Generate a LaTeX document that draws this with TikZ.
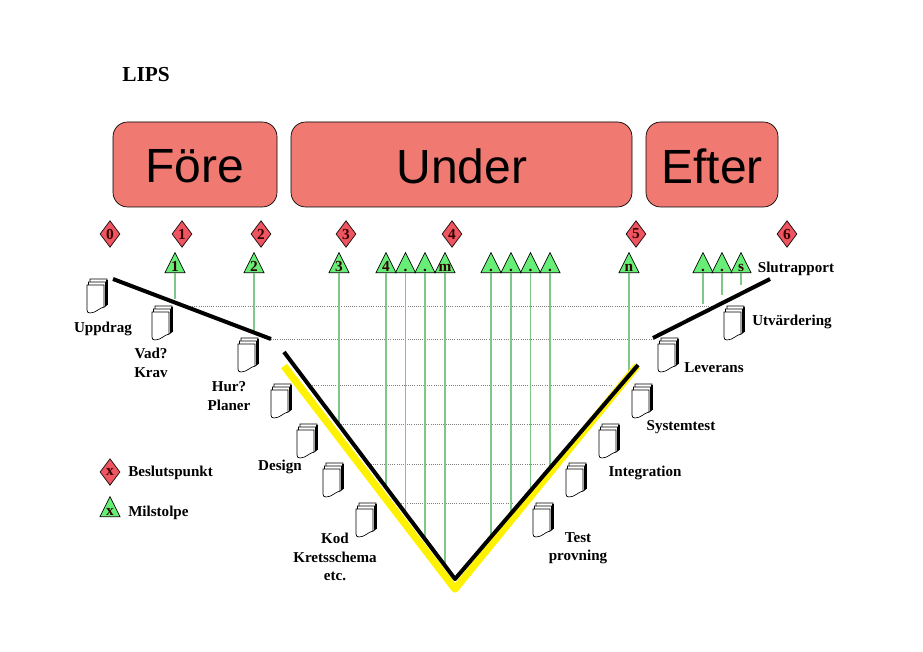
\documentclass[tikz,border=0pt]{standalone}
\usepackage{fontspec}
\setmainfont{Liberation Serif}
\setsansfont{Liberation Sans}
\usetikzlibrary{shapes.geometric}
\definecolor{phasered}{HTML}{F07A72}
\definecolor{gatered}{HTML}{EE5560}
\definecolor{stonegreen}{HTML}{66EE77}
\definecolor{stoneline}{HTML}{80C888}
\tikzset{
    phasebox/.style={draw=black,fill=phasered,rounded corners=11pt,line width=0.5pt},
    phasetext/.style={font=\sffamily\fontsize{36}{36}\selectfont},
    gate/.style={diamond,draw=black,fill=gatered,minimum width=15pt,minimum height=20pt,inner sep=0pt,line width=0.5pt},
    stone/.style={isosceles triangle,isosceles triangle apex angle=53,shape border rotate=90,draw=black,fill=stonegreen,minimum height=15pt,minimum width=15pt,inner sep=0pt,line width=0.5pt,anchor=south},
    marktext/.style={font=\bfseries\fontsize{11.5}{11.5}\selectfont,text=black!80!red,inner sep=0pt},
    lbl/.style={font=\bfseries\fontsize{11.3}{13.9}\selectfont,align=center,inner sep=0pt},
    levelline/.style={gray,line width=0.6pt,densely dotted},
    stoneconn/.style={stoneline,line width=0.9pt},
    vline/.style={black,line width=3pt,line join=round},
    yline/.style={yellow,line width=5.5pt,line join=round},
    pics/docstack/.style={code={
        \draw[fill=white,line width=0.5pt] (3,0) -- (20,0) -- (20,26) -- (17,28) -- (3,28) -- cycle;
        \draw[fill=white,line width=0.5pt] (1.5,3) -- (18.5,3) -- (18.5,27) -- (17,28) -- (1.5,28) -- cycle;
        \draw[line width=0.8pt] (20,1) -- (20,26);
        \draw[fill=white,line width=0.5pt] (0,6) -- (17,6) -- (17,28) .. controls (12,29) and (9,34) .. (3,34) .. controls (1,34) and (0,33) .. (0,31) -- cycle;
    }}
}
\begin{document}
\begin{tikzpicture}[x=0.75pt,y=-0.75pt]
\useasboundingbox (0,0) rectangle (923,652);
% Title
    \node[font=\bfseries\fontsize{16}{16}\selectfont,inner sep=0pt] (title) at (146,75) {LIPS};
% Phases
    \draw[phasebox] (113,122) rectangle (277,207);
    \draw[phasebox] (291,122) rectangle (632,207);
    \draw[phasebox] (646,122) rectangle (778,207);
    \node[phasetext] (fore) at (195,166) {Före};
    \node[phasetext] (under) at (462,166) {Under};
    \node[phasetext] (efter) at (712,166) {Efter};
% Levels
    \draw[levelline] (190,306) -- (712,306);
    \draw[levelline] (271,339) -- (653,339);
    \draw[levelline] (312,385) -- (612,385);
    \draw[levelline] (341,424) -- (579,424);
    \draw[levelline] (371,464) -- (545,464);
    \draw[levelline] (401,503) -- (512,503);
% Decision points
    \foreach \xpos/\tag [count=\i] in {110/0,182/1,261/2,346/3,452/4,636/5,787/6} {
        \node[gate] (gate\i) at (\xpos,234) {};
        \node[marktext] at (gate\i.center) {\tag};
    }
% Milestones
    \foreach \xpos/\tag/\yend [count=\i] in {175/1/299,254/2/331,339/3/424,386/4/488,405.5/./513,425/./539,445/m/567,491/./538,511/./514,530.5/./492,550/./468,629/n/376,703/./304,722/./295,741/s/285} {
        \node[stone] (stone\i) at (\xpos,273) {};
        \coordinate (foot\i) at (\xpos,\yend);
        \draw[stoneconn] (stone\i.south) -- (foot\i);
        \node[marktext,anchor=base] at (\xpos,271.5) {\tag};
    }
% The V
    \draw[yline] (284,366) -- (455,589) -- (637,366);
    \draw[vline] (284,352) -- (455,579) -- (638,365);
    \draw[vline] (113,279) -- (271,339);
    \draw[vline] (653,338) -- (770,279);
% Documents
    \foreach \xpos/\ypos in {87/279,152/306,238/338,271/384,297/424,323/463,356/503,533/503,566/463,599/424,632/384,658/338,724/306} {
        \pic at (\xpos,\ypos) {docstack};
    }
% Labels
    \node[lbl] (uppdrag) at (103,329) {Uppdrag};
    \node[lbl] (krav) at (151,363) {Vad?\\Krav};
    \node[lbl] (planer) at (229,396) {Hur?\\Planer};
    \node[lbl] (design) at (280,467) {Design};
    \node[lbl] (kod) at (335,557) {Kod\\Kretsschema\\etc.};
    \node[lbl] (test) at (578,548) {Test\\provning};
    \node[lbl] (integration) at (645,473) {Integration};
    \node[lbl] (systemtest) at (681,427) {Systemtest};
    \node[lbl] (leverans) at (714,368) {Leverans};
    \node[lbl] (utvardering) at (792,322) {Utvärdering};
    \node[lbl] (slutrapport) at (796,269) {Slutrapport};
% Legend
    \node[gate] (keygate) at (110,472) {};
    \node[marktext] at (keygate.center) {x};
    \node[stone] (keystone) at (110,517) {};
    \node[marktext,anchor=base] at (110,515.5) {x};
    \node[lbl,anchor=west] (beslut) at (128,473) {Beslutspunkt};
    \node[lbl,anchor=west] (milstolpe) at (128,513) {Milstolpe};
\end{tikzpicture}
\end{document}
